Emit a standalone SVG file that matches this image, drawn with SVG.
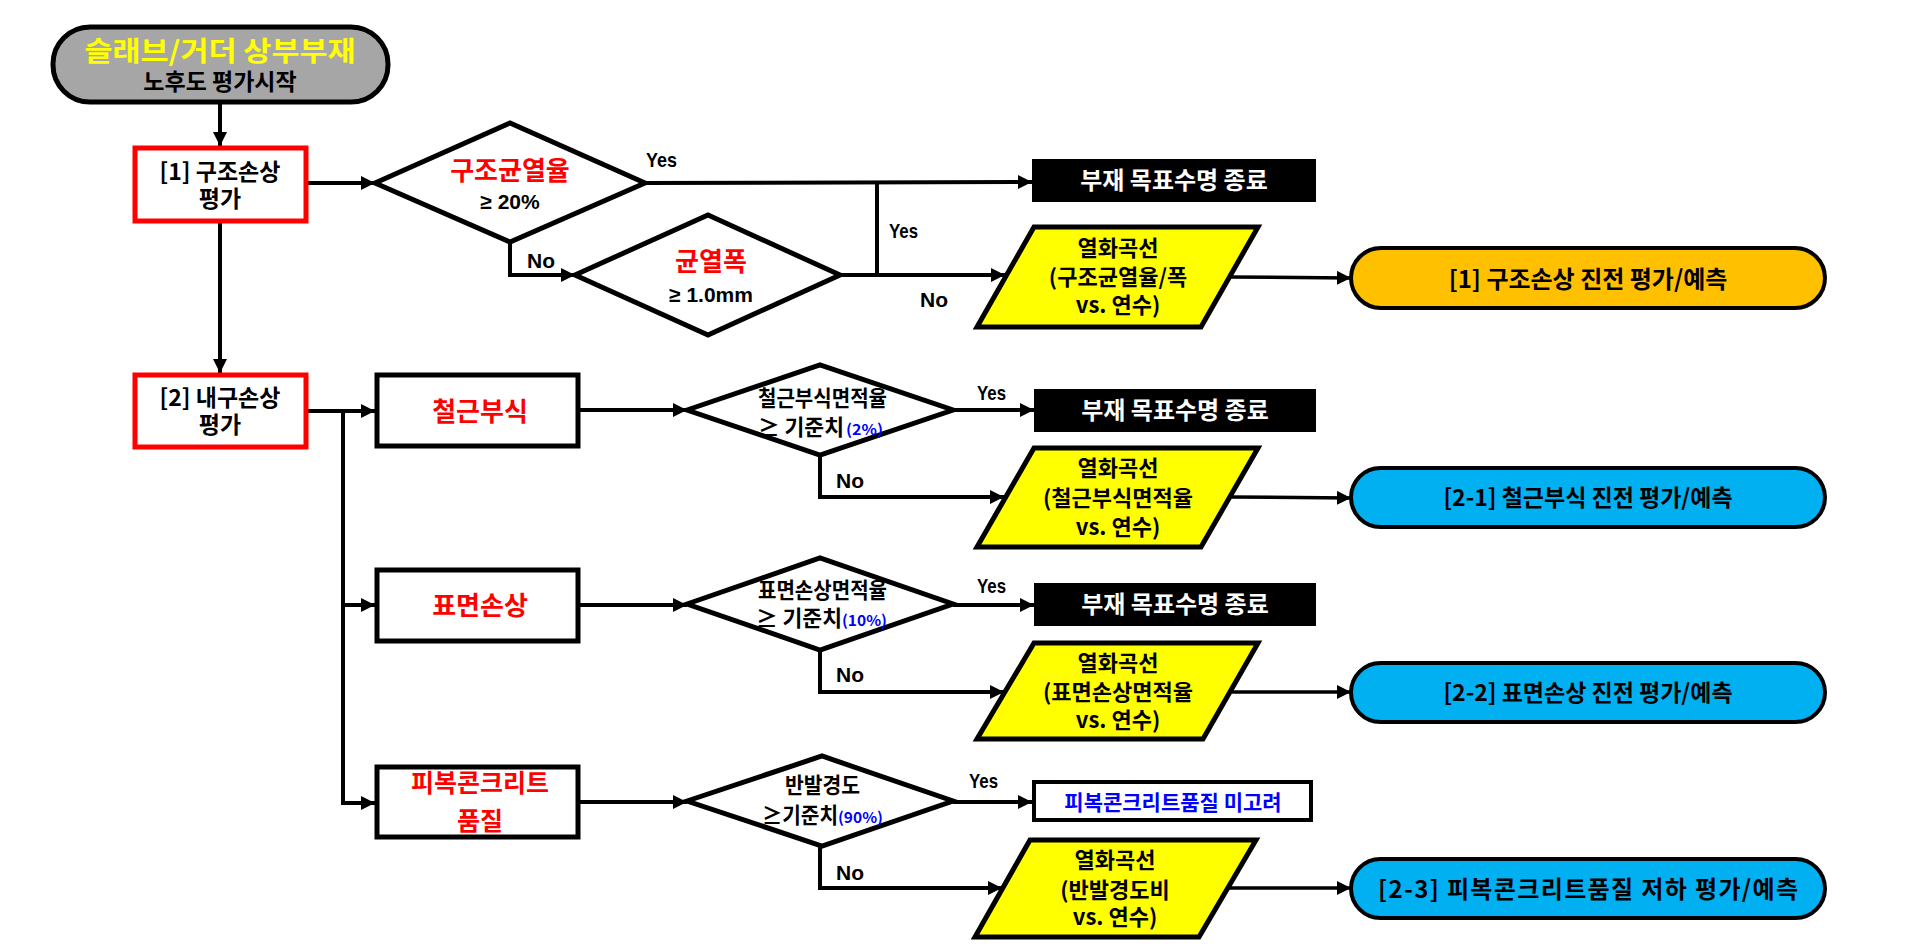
<svg xmlns="http://www.w3.org/2000/svg" width="1920" height="951" viewBox="0 0 1920 951">
<defs>
<marker id="ah" markerUnits="userSpaceOnUse" markerWidth="16" markerHeight="16" refX="14" refY="7" orient="auto">
<path d="M0,0 L14,7 L0,14 Z" fill="#000"/>
</marker>
<style>
.k{font-family:"Noto Sans CJK KR","Noto Sans",sans-serif;font-weight:bold;}
.l{font-family:"Liberation Sans",Arial,sans-serif;font-weight:bold;}
.c{text-anchor:middle;}
.red{fill:#ff0000;}
.blk{fill:#000;}
.wht{fill:#fff;}
.blu{fill:#0000ff;}
.box{fill:#fff;stroke:#000;stroke-width:5;}
.rbox{fill:#fff;stroke:#ff0000;stroke-width:5;}
.dia{fill:#fff;stroke:#000;stroke-width:5;stroke-linejoin:miter;}
.par{fill:#ffff00;stroke:#000;stroke-width:5;}
.bbox{fill:#000;}
.term{stroke:#000;stroke-width:4;}
.ln{fill:none;stroke:#000;stroke-width:4;}
.ln3{fill:none;stroke:#000;stroke-width:3.5;}
</style>
</defs>
<rect width="1920" height="951" fill="#fff"/>

<g id="connectors">
<path class="ln" d="M220,102 V146" marker-end="url(#ah)"/>
<path class="ln" d="M308,183 H375" marker-end="url(#ah)"/>
<path class="ln" d="M510,242 V275 H575" marker-end="url(#ah)"/>
<path class="ln" d="M645,183 L1032,182" marker-end="url(#ah)"/>
<path class="ln" d="M840,275 H1005" marker-end="url(#ah)"/>
<path class="ln" d="M877,275 V182"/>
<path class="ln3" d="M1229,277 L1351,278" marker-end="url(#ah)"/>
<path class="ln" d="M220,223 V373" marker-end="url(#ah)"/>
<path class="ln" d="M308,411 H375" marker-end="url(#ah)"/>
<path class="ln" d="M343,411 V803 H375" marker-end="url(#ah)"/>
<path class="ln" d="M343,605 H375" marker-end="url(#ah)"/>
<path class="ln" d="M580,410 H687" marker-end="url(#ah)"/>
<path class="ln" d="M953,410 H1034" marker-end="url(#ah)"/>
<path class="ln" d="M820,455 V497 H1004" marker-end="url(#ah)"/>
<path class="ln3" d="M1230,497 L1351,498" marker-end="url(#ah)"/>
<path class="ln" d="M580,605 H687" marker-end="url(#ah)"/>
<path class="ln" d="M953,605 H1034" marker-end="url(#ah)"/>
<path class="ln" d="M820,650 V692 H1004" marker-end="url(#ah)"/>
<path class="ln3" d="M1230,692 H1351" marker-end="url(#ah)"/>
<path class="ln" d="M580,802 H687" marker-end="url(#ah)"/>
<path class="ln" d="M953,802 H1032" marker-end="url(#ah)"/>
<path class="ln" d="M820,846 V888 H1002" marker-end="url(#ah)"/>
<path class="ln3" d="M1228,888 H1351" marker-end="url(#ah)"/>
<text class="l" x="646" y="167" font-size="21" textLength="31" lengthAdjust="spacingAndGlyphs">Yes</text>
<text class="l" x="527" y="268" font-size="21">No</text>
<text class="l" x="889" y="238" font-size="21" textLength="29" lengthAdjust="spacingAndGlyphs">Yes</text>
<text class="l" x="920" y="307" font-size="21">No</text>
<text class="l" x="977" y="400" font-size="21" textLength="29" lengthAdjust="spacingAndGlyphs">Yes</text>
<text class="l" x="836" y="488" font-size="21">No</text>
<text class="l" x="977" y="593" font-size="21" textLength="29" lengthAdjust="spacingAndGlyphs">Yes</text>
<text class="l" x="836" y="682" font-size="21">No</text>
<text class="l" x="969" y="788" font-size="21" textLength="29" lengthAdjust="spacingAndGlyphs">Yes</text>
<text class="l" x="836" y="880" font-size="21">No</text>
</g>

<g id="start">
<rect x="53" y="27" width="335" height="75" rx="37" fill="#a6a6a6" stroke="#000" stroke-width="5"/>
<text class="k c" x="220" y="61" font-size="27" fill="#ffff00" textLength="271" lengthAdjust="spacingAndGlyphs">슬래브/거더 상부부재</text>
<text class="k c blk" x="220" y="90" font-size="23">노후도 평가시작</text>
</g>

<g id="box1">
<rect class="rbox" x="135" y="148" width="171" height="73"/>
<text class="k c blk" x="220" y="180" font-size="23">[1] 구조손상</text>
<text class="k c blk" x="220" y="207" font-size="23">평가</text>
</g>

<g id="dia1">
<polygon class="dia" points="375,183 510,123 645,183 510,242"/>
<text class="k c red" x="510" y="180" font-size="26">구조균열율</text>
<text class="l c blk" x="510" y="209" font-size="21">≥ 20%</text>
</g>

<g id="end1">
<rect class="bbox" x="1032" y="159" width="284" height="43"/>
<text class="k c wht" x="1174" y="189" font-size="24">부재 목표수명 종료</text>
</g>

<g id="dia2">
<polygon class="dia" points="575,275 708,215 840,275 708,335"/>
<text class="k c red" x="711" y="271" font-size="26">균열폭</text>
<text class="l c blk" x="711" y="302" font-size="21">≥ 1.0mm</text>
</g>

<g id="curve1">
<polygon class="par" points="1034,227 1258,227 1201,327 977,327"/>
<text class="k c blk" x="1118" y="256" font-size="22">열화곡선</text>
<text class="k c blk" x="1118" y="285" font-size="22">(구조균열율/폭</text>
<text class="k c blk" x="1118" y="313" font-size="22">vs. 연수)</text>
</g>

<g id="result1">
<rect class="term" x="1351" y="248" width="474" height="60" rx="30" fill="#ffc000"/>
<text class="k c blk" x="1588" y="288" font-size="24">[1] 구조손상 진전 평가/예측</text>
</g>

<g id="box2">
<rect class="rbox" x="135" y="375" width="171" height="72"/>
<text class="k c blk" x="220" y="406" font-size="23">[2] 내구손상</text>
<text class="k c blk" x="220" y="433" font-size="23">평가</text>
</g>

<g id="corrosion">
<rect class="box" x="377" y="375" width="201" height="71"/>
<text class="k c red" x="480" y="421" font-size="26">철근부식</text>
</g>

<g id="surface">
<rect class="box" x="377" y="570" width="201" height="71"/>
<text class="k c red" x="480" y="615" font-size="26">표면손상</text>
</g>

<g id="cover">
<rect class="box" x="377" y="767" width="201" height="70"/>
<text class="k c red" x="480" y="792" font-size="25">피복콘크리트</text>
<text class="k c red" x="480" y="830" font-size="25">품질</text>
</g>

<g id="dia3">
<polygon class="dia" points="687,410 820,365 953,410 820,455"/>
<text class="k blk" x="758" y="406" font-size="22" textLength="129" lengthAdjust="spacingAndGlyphs">철근부식면적율</text>
<text class="k blk" x="758" y="435" font-size="22"><tspan textLength="86" lengthAdjust="spacingAndGlyphs">≥ 기준치</tspan><tspan class="blu" x="846" font-size="15" textLength="37" lengthAdjust="spacingAndGlyphs">(2%)</tspan></text>
</g>

<g id="end2">
<rect class="bbox" x="1034" y="389" width="282" height="43"/>
<text class="k c wht" x="1175" y="419" font-size="24">부재 목표수명 종료</text>
</g>

<g id="curve2">
<polygon class="par" points="1034,448 1258,448 1201,547 977,547"/>
<text class="k c blk" x="1118" y="476" font-size="22">열화곡선</text>
<text class="k c blk" x="1118" y="506" font-size="22">(철근부식면적율</text>
<text class="k c blk" x="1118" y="535" font-size="22">vs. 연수)</text>
</g>

<g id="result21">
<rect class="term" x="1351" y="468" width="474" height="59" rx="29.5" fill="#00b0f0"/>
<text class="k c blk" x="1588" y="506" font-size="23">[2-1] 철근부식 진전 평가/예측</text>
</g>

<g id="dia4">
<polygon class="dia" points="687,604 820,558 953,604 820,650"/>
<text class="k blk" x="758" y="598" font-size="22" textLength="129" lengthAdjust="spacingAndGlyphs">표면손상면적율</text>
<text class="k blk" x="756" y="626" font-size="22"><tspan textLength="86" lengthAdjust="spacingAndGlyphs">≥ 기준치</tspan><tspan class="blu" x="842" font-size="15" textLength="45" lengthAdjust="spacingAndGlyphs">(10%)</tspan></text>
</g>

<g id="end3">
<rect class="bbox" x="1034" y="583" width="282" height="43"/>
<text class="k c wht" x="1175" y="613" font-size="24">부재 목표수명 종료</text>
</g>

<g id="curve3">
<polygon class="par" points="1034,643 1258,643 1203,739 977,739"/>
<text class="k c blk" x="1118" y="671" font-size="22">열화곡선</text>
<text class="k c blk" x="1118" y="700" font-size="22">(표면손상면적율</text>
<text class="k c blk" x="1118" y="728" font-size="22">vs. 연수)</text>
</g>

<g id="result22">
<rect class="term" x="1351" y="663" width="474" height="59" rx="29.5" fill="#00b0f0"/>
<text class="k c blk" x="1588" y="701" font-size="23">[2-2] 표면손상 진전 평가/예측</text>
</g>

<g id="dia5">
<polygon class="dia" points="687,801 822,756 953,801 822,846"/>
<text class="k blk" x="785" y="793" font-size="22" textLength="75" lengthAdjust="spacingAndGlyphs">반발경도</text>
<text class="k blk" x="762" y="823" font-size="22"><tspan textLength="76" lengthAdjust="spacingAndGlyphs">≥기준치</tspan><tspan class="blu" x="838" font-size="15" textLength="45" lengthAdjust="spacingAndGlyphs">(90%)</tspan></text>
</g>

<g id="ignore">
<rect x="1034" y="782" width="277" height="38" fill="#fff" stroke="#000" stroke-width="4"/>
<text class="k c blu" x="1173" y="810" font-size="21">피복콘크리트품질 미고려</text>
</g>

<g id="curve4">
<polygon class="par" points="1030,840 1256,840 1199,937 975,937"/>
<text class="k c blk" x="1115" y="868" font-size="22">열화곡선</text>
<text class="k c blk" x="1115" y="898" font-size="22">(반발경도비</text>
<text class="k c blk" x="1115" y="925" font-size="22">vs. 연수)</text>
</g>

<g id="result23">
<rect class="term" x="1351" y="859" width="474" height="59" rx="29.5" fill="#00b0f0"/>
<text class="k c blk" x="1588" y="898" font-size="24" textLength="420">[2-3] 피복콘크리트품질 저하 평가/예측</text>
</g>
</svg>
